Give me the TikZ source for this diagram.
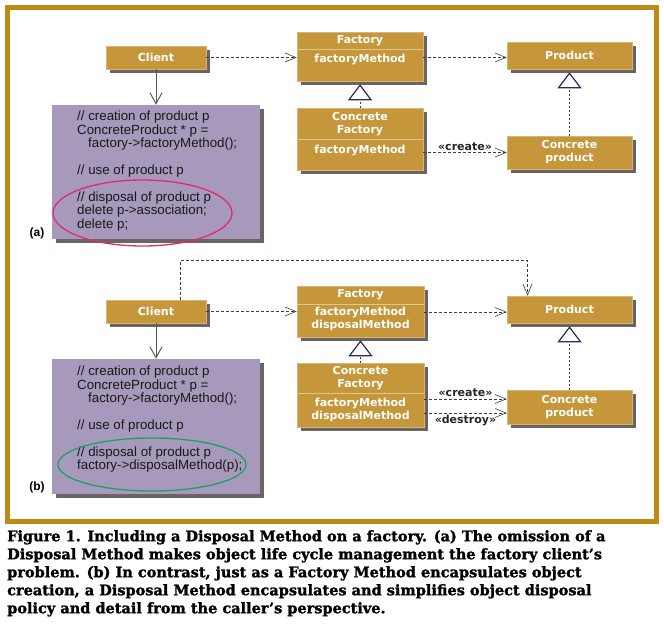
\documentclass[tikz,border=0pt]{standalone}
\usepackage{fontspec}
\setmainfont{Liberation Sans}
\newfontfamily\boxfont{DejaVu Sans}
\newfontfamily\capfont[BoldFeatures={FakeBold=1.6}]{DejaVu Serif}
\usetikzlibrary{arrows.meta,shadows,shapes.geometric}

\definecolor{boxgold}{RGB}{197,151,58}
\definecolor{boxshade}{RGB}{108,100,98}
\definecolor{codelav}{RGB}{166,153,187}
\definecolor{framegold}{RGB}{191,137,24}
\definecolor{tipnavy}{RGB}{45,40,95}
\definecolor{ringpink}{RGB}{226,42,112}
\definecolor{ringgreen}{RGB}{32,160,100}
\definecolor{linegray}{RGB}{60,60,60}

\begin{document}
\begin{tikzpicture}[x=1pt,y=-1pt,
	classbox/.style={fill=boxgold, draw=boxgold!70!white, line width=0.5pt, inner sep=0pt,
		drop shadow={shadow xshift=4pt, shadow yshift=-4pt, fill=boxshade, opacity=1}},
	boxtext/.style={text=white, font=\boxfont\bfseries\fontsize{11}{13}\selectfont, inner sep=0pt, align=center},
	divider/.style={draw=boxgold!55!white, line width=0.8pt},
	codebox/.style={fill=codelav, inner sep=0pt,
		drop shadow={shadow xshift=4pt, shadow yshift=-4pt, fill=boxshade, opacity=1}},
	codetext/.style={font=\fontsize{13.3}{13.4}\selectfont, text=black!90, align=left, inner sep=0pt, anchor=north west},
	ring/.style={ellipse, draw=#1, line width=1.3pt, inner sep=0pt},
	stereo/.style={font=\boxfont\bfseries\fontsize{11}{13}\selectfont, text=black!85, inner sep=2pt},
	depends/.style={draw=linegray, line width=0.6pt, dash pattern=on 3pt off 2pt,
		-{Straight Barb[length=11pt,width=9pt,line width=0.6pt]}},
	realizes/.style={draw=linegray, line width=0.6pt, dash pattern=on 2pt off 2pt,
		-{Triangle[length=16pt,width=24pt,color=tipnavy,fill=white,line width=1.2pt]}},
	uses/.style={draw=black!65, line width=1pt, -{Straight Barb[length=11pt,width=12pt,line width=1pt]}}
	]
	\useasboundingbox (0,0) rectangle (664,625);
	\draw[framegold, line width=5pt] (7,7) rectangle (656,521);

	% (a) without a disposal method
	\node[codebox, minimum width=208, minimum height=134] (codeA) at (156,172) {};
	\node[codetext] (codeAt) at (77,111) {// creation of product p\\
		ConcreteProduct * p =\\
		\hspace*{11pt}factory->factoryMethod();\\[13.4pt]
		// use of product p\\[13.4pt]
		// disposal of product p\\
		delete p->association;\\
		delete p;};
	\node[ring=ringpink, minimum width=179, minimum height=66] (dispA) at (142.5,213) {};
	\node[font=\bfseries\fontsize{12}{14}\selectfont, inner sep=0pt] (tagA) at (37,233) {(a)};

	\node[classbox, boxtext, minimum width=100, minimum height=23] (cliA) at (156,57.5) {Client};
	\node[classbox, minimum width=126, minimum height=49] (facA) at (360,56.5) {};
	\node[boxtext] (facAt) at (360,41) {Factory};
	\node[boxtext] (facAm) at (360,59.5) {factoryMethod};
	\draw[divider] ([yshift=-18pt]facA.north west) -- ([yshift=-18pt]facA.north east);
	\node[classbox, minimum width=126, minimum height=62] (cfA) at (360,139) {};
	\node[boxtext] (cfAt) at (360,124) {Concrete\\Factory};
	\node[boxtext] (cfAm) at (360,150.5) {factoryMethod};
	\draw[divider] ([yshift=-32pt]cfA.north west) -- ([yshift=-32pt]cfA.north east);
	\node[classbox, boxtext, minimum width=125, minimum height=27] (prodA) at (569.5,55.5) {Product};
	\node[classbox, boxtext, minimum width=125, minimum height=33] (cpA) at (569.5,152.5) {Concrete\\product};

	\draw[uses] (cliA) -- (codeA);
	\draw[depends] (cliA.east) -- (cliA.east -| facA.west);
	\draw[depends] ([yshift=-2pt]prodA.west -| facA.east) -- ([yshift=-2pt]prodA.west);
	\draw[depends] (cpA.west -| cfA.east) -- node[stereo, above] (crA) {«create»} (cpA.west);
	\draw[realizes] (cfA.north) -- ([yshift=-3pt]facA.south);
	\draw[realizes] (cpA.north) -- ([yshift=-3pt]prodA.south);

	% (b) with a disposal method on the factory
	\node[codebox, minimum width=208, minimum height=135] (codeB) at (156,426.5) {};
	\node[codetext] (codeBt) at (77,366) {// creation of product p\\
		ConcreteProduct * p =\\
		\hspace*{11pt}factory->factoryMethod();\\[13.4pt]
		// use of product p\\[13.4pt]
		// disposal of product p\\
		factory->disposalMethod(p);};
	\node[ring=ringgreen, minimum width=188, minimum height=53] (dispB) at (152,464.5) {};
	\node[font=\bfseries\fontsize{12}{14}\selectfont, inner sep=0pt] (tagB) at (37,487) {(b)};

	\node[classbox, boxtext, minimum width=100, minimum height=23] (cliB) at (156,311.5) {Client};
	\node[classbox, minimum width=127, minimum height=51] (facB) at (360.5,311.5) {};
	\node[boxtext] (facBt) at (360.5,295) {Factory};
	\node[boxtext] (facBm) at (360.5,318.5) {factoryMethod\\disposalMethod};
	\draw[divider] ([yshift=-18.5pt]facB.north west) -- ([yshift=-18.5pt]facB.north east);
	\node[classbox, minimum width=127, minimum height=64] (cfB) at (360.5,395) {};
	\node[boxtext] (cfBt) at (360.5,378) {Concrete\\Factory};
	\node[boxtext] (cfBm) at (360.5,409.5) {factoryMethod\\disposalMethod};
	\draw[divider] ([yshift=-31pt]cfB.north west) -- ([yshift=-31pt]cfB.north east);
	\node[classbox, boxtext, minimum width=125, minimum height=27] (prodB) at (569.5,309.5) {Product};
	\node[classbox, boxtext, minimum width=125, minimum height=34] (cpB) at (569.5,407) {Concrete\\product};

	\draw[uses] (cliB) -- (codeB);
	\draw[depends] (cliB.east) -- (cliB.east -| facB.west);
	\draw[depends] ([yshift=-2.5pt]prodB.west -| facB.east) -- ([yshift=-2.5pt]prodB.west);
	\draw[depends] ([xshift=24pt]cliB.north) -- ++(0,-39) -| ([xshift=-42pt]prodB.north);
	\draw[depends] ([yshift=8pt]cpB.west -| cfB.east) -- node[stereo, above] (crB) {«create»} ([yshift=8pt]cpB.west);
	\draw[depends] ([yshift=-6pt]cpB.west -| cfB.east) -- node[stereo, below] (dsB) {«destroy»} ([yshift=-6pt]cpB.west);
	\draw[realizes] (cfB.north) -- ([yshift=-3pt]facB.south);
	\draw[realizes] (cpB.north) -- ([yshift=-3pt]prodB.south);

	% caption
	\node[font=\capfont\bfseries\fontsize{14.5}{18}\selectfont, align=left, inner sep=0pt, anchor=north west] (cap) at (7,530)
		{Figure 1. Including a Disposal Method on a factory. (a) The omission of a\\
		Disposal Method makes object life cycle management the factory client’s\\
		problem. (b) In contrast, just as a Factory Method encapsulates object\\
		creation, a Disposal Method encapsulates and simplifies object disposal\\
		policy and detail from the caller’s perspective.};
\end{tikzpicture}
\end{document}
